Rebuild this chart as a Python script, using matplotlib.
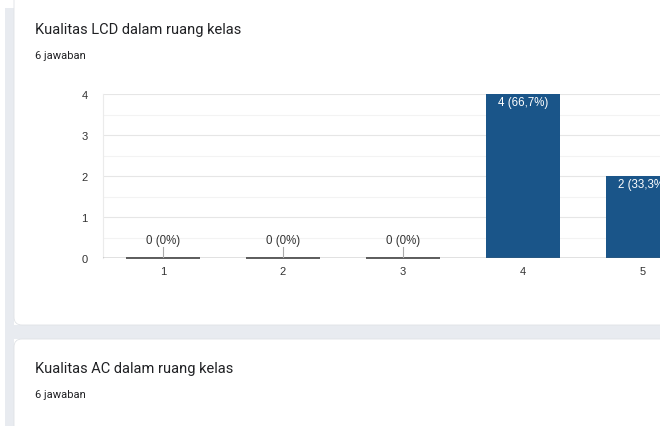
import matplotlib
matplotlib.use("Agg")
import matplotlib.pyplot as plt
from matplotlib.patches import FancyBboxPatch, Rectangle

# ---- data ----
title1 = "Kualitas LCD dalam ruang kelas"
title2 = "Kualitas AC dalam ruang kelas"
subtitle = "6 jawaban"
categories = ["1", "2", "3", "4", "5"]
counts = [0, 0, 0, 4, 2]
labels = ["0 (0%)", "0 (0%)", "0 (0%)", "4 (66,7%)", "2 (33,3%)"]

W, H = 660, 427
fig = plt.figure(figsize=(W / 100, H / 100), dpi=100)
fig.patch.set_facecolor("white")

# background axes in pixel coordinates
bg = fig.add_axes([0, 0, 1, 1], zorder=0)
bg.set_xlim(0, W)
bg.set_ylim(H, 0)
bg.axis("off")
grey = "#e8ebf0"
bg.add_patch(Rectangle((5, 9), 9, H, facecolor=grey, edgecolor="none"))
bg.add_patch(Rectangle((5, 326), W, 14, facecolor=grey, edgecolor="none"))
# cards
bg.add_patch(FancyBboxPatch((14, -20), W + 20, 346, boxstyle="round,pad=0,rounding_size=8",
                            facecolor="white", edgecolor="#dfe2e6", linewidth=0.6))
bg.add_patch(FancyBboxPatch((14, 340), W + 20, 120, boxstyle="round,pad=0,rounding_size=8",
                            facecolor="white", edgecolor="#dfe2e6", linewidth=0.6))

title_font = ["Roboto", "DejaVu Sans"]
bg.text(35, 30, title1, fontsize=10.5, color="#202124", family=title_font, va="center", ha="left")
bg.text(35, 56, subtitle, fontsize=8, color="#202124", family=title_font, va="center", ha="left")
bg.text(35, 369, title2, fontsize=10.5, color="#202124", family=title_font, va="center", ha="left")
bg.text(35, 395, subtitle, fontsize=8, color="#202124", family=title_font, va="center", ha="left")

# ---- main chart ----
left, right, top, bottom = 103, 660, 95, 259
ax = fig.add_axes([left / W, (H - bottom) / H, (right - left) / W, (bottom - top) / H], zorder=1)
ax.set_facecolor("none")
band = 120.0
ax.set_xlim(-0.5, -0.5 + (right - left) / band)
ax.set_ylim(0, 4)

x = list(range(len(categories)))
bar_color = "#1a5589"
bw = 0.62
ax.bar(x, counts, width=bw, color=bar_color, zorder=3)

# gridlines
for v in [0.5, 1.5, 2.5, 3.5]:
    ax.axhline(v, color="#f3f3f3", lw=0.8, zorder=1)
for v in [1, 2, 3, 4]:
    ax.axhline(v, color="#e6e6e6", lw=0.8, zorder=1)
ax.axhline(0, color="#666666", lw=1.0, zorder=4)

for s in ["top", "right", "bottom"]:
    ax.spines[s].set_visible(False)
ax.spines["left"].set_color("#ebebeb")
ax.spines["left"].set_linewidth(0.8)

ax.set_xticks(x)
ax.set_xticklabels(categories)
ax.set_yticks([0, 1, 2, 3, 4])
ax.set_yticklabels(["0", "1", "2", "3", "4"])
ax.tick_params(axis="both", length=0, labelsize=8, labelcolor="#333333")
ax.tick_params(axis="y", pad=11)
ax.tick_params(axis="x", pad=6)
for lab in ax.get_xticklabels() + ax.get_yticklabels():
    lab.set_family(["Liberation Sans", "DejaVu Sans"])

lab_font = ["Liberation Sans", "DejaVu Sans"]
for xi, c, lab in zip(x, counts, labels):
    if c == 0:
        ax.plot([xi - bw / 2, xi + bw / 2], [0, 0], color="#505050", lw=1.3, zorder=5,
                solid_capstyle="butt", clip_on=False)
        ax.plot([xi, xi], [0, 0.27], color="#aaaaaa", lw=0.8, zorder=5)
        ax.text(xi, 0.29, lab, ha="center", va="bottom", fontsize=8.3, color="#333333",
                family=lab_font, zorder=6)
    else:
        ax.text(xi, c - 0.05, lab, ha="center", va="top", fontsize=8.3, color="white",
                family=lab_font, zorder=6, clip_on=False)

fig.savefig("out.png", dpi=100)
